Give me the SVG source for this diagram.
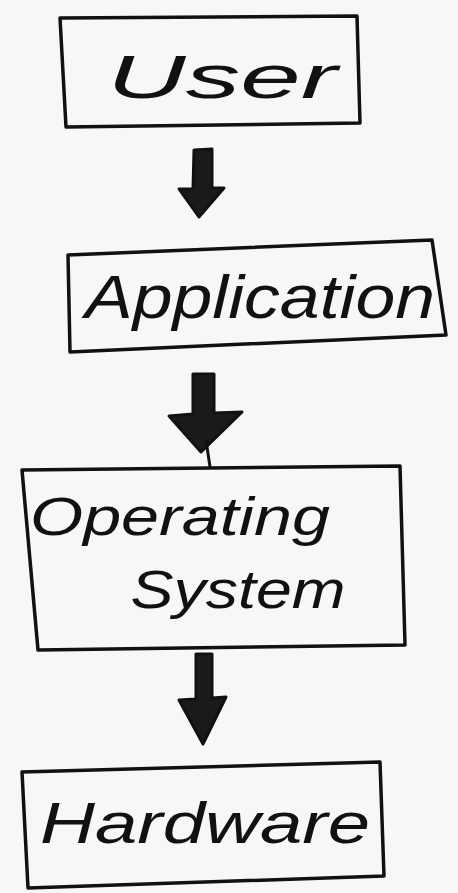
<svg xmlns="http://www.w3.org/2000/svg" width="458" height="893" viewBox="0 0 458 893">
<style>
.box{fill:none;stroke:#111;stroke-width:3.5;stroke-linejoin:round}
.arr{fill:#1a1a1a;stroke:#111;stroke-width:3;stroke-linejoin:round}
.lbl{font-family:"Liberation Sans","DejaVu Sans",sans-serif;font-style:italic;fill:#111;text-anchor:middle}
</style>
<rect width="458" height="893" fill="#f7f7f7"/>
<g id="user">
<polygon class="box" points="60,18 357,16 360,123 66,127"/>
<text class="lbl" x="222" y="98" font-size="62" textLength="230" lengthAdjust="spacingAndGlyphs">User</text>
</g>
<g id="application">
<polygon class="box" points="68,255 432,240 446,335 70,352"/>
<text class="lbl" x="260" y="318" font-size="62" textLength="350" lengthAdjust="spacingAndGlyphs">Application</text>
</g>
<g id="os">
<polygon class="box" points="22,470 400,466 405,645 38,650"/>
<text class="lbl" x="180" y="535" font-size="54" textLength="300" lengthAdjust="spacingAndGlyphs">Operating</text>
<text class="lbl" x="238" y="608" font-size="54" textLength="215" lengthAdjust="spacingAndGlyphs">System</text>
</g>
<g id="hardware">
<polygon class="box" points="22,772 380,762 384,876 28,888"/>
<text class="lbl" x="205" y="843" font-size="58" textLength="330" lengthAdjust="spacingAndGlyphs">Hardware</text>
</g>
<g id="connectors">
<polygon class="arr" points="194,150 212,149 212,188 224,188 199,217 179,189 193,189"/>
<polygon class="arr" points="193,374 214,374 214,413 242,412 201,452 169,416 193,414"/>
<line x1="206" y1="440" x2="210" y2="467" stroke="#111" stroke-width="3"/>
<polygon class="arr" points="196,654 212,654 212,698 226,697 203,744 179,700 196,699"/>
</g>
</svg>
